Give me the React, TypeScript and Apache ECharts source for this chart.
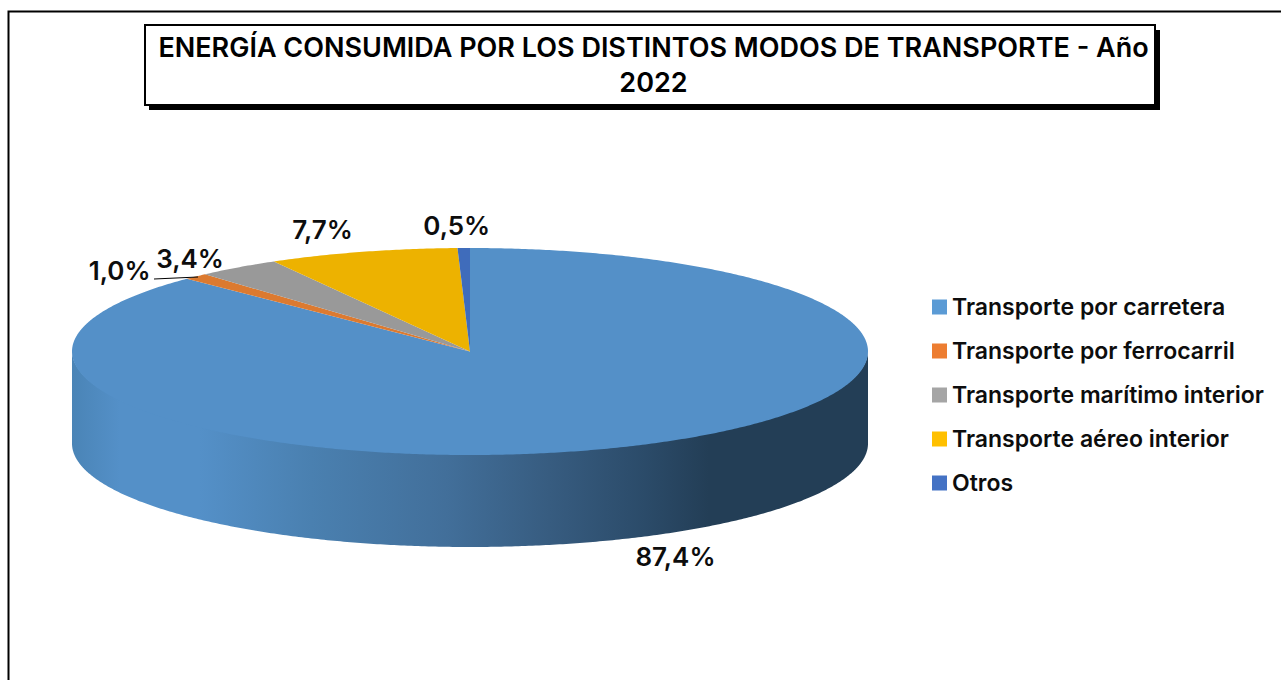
import React, { useEffect, useRef } from "react";
import * as echarts from "echarts";

const titleText = "ENERGÍA CONSUMIDA POR LOS DISTINTOS MODOS DE TRANSPORTE - Año\n2022";
const categories = [
  "Transporte por carretera",
  "Transporte por ferrocarril",
  "Transporte marítimo interior",
  "Transporte aéreo interior",
  "Otros",
];
const shares = [87.4, 1.0, 3.4, 7.7, 0.5];
const legendColors = ["#5b9bd5", "#ed7d31", "#a5a5a5", "#ffc000", "#4472c4"];
const sliceColors = ["#5490c8", "#dc7a30", "#999999", "#edb200", "#3f6cbb"];

// Label anchor shifts from the point on the rim at each slice's mid-angle.
const labelShifts: [number, number][] = [
  [52, 110],
  [-76, -6],
  [-48, -9],
  [-40, -22],
  [-7, -23],
];

const CX = 470;
const CY = 351.5;
const RX = 398;
const RY = 103.5;
const DEPTH = 92;
const FONT = "Inter, 'Noto Sans', sans-serif";

const wallGradient = () =>
  new echarts.graphic.LinearGradient(
    72,
    0,
    868,
    0,
    [
      { offset: 0, color: "#4a84b6" },
      { offset: 0.06, color: "#5490c8" },
      { offset: 0.16, color: "#5490c8" },
      { offset: 0.3, color: "#4a80b0" },
      { offset: 0.47, color: "#426f9a" },
      { offset: 0.6, color: "#375c80" },
      { offset: 0.72, color: "#2b4b69" },
      { offset: 0.8, color: "#233e56" },
      { offset: 1, color: "#233e56" },
    ],
    true
  );

const rim = (deg: number, dy = 0): [number, number] => {
  const a = (deg * Math.PI) / 180;
  return [CX + RX * Math.sin(a), CY - RY * Math.cos(a) + dy];
};

const arc = (from: number, to: number, dy = 0) => {
  const pts: [number, number][] = [];
  const n = Math.max(2, Math.ceil((to - from) / 0.5));
  for (let i = 0; i <= n; i++) pts.push(rim(from + ((to - from) * i) / n, dy));
  return pts;
};

const total = shares.reduce((s, v) => s + v, 0);

const makeRender = (index: number) => (_params: any, api: any) => {
  const value = api.value(0);
  const before = shares.slice(0, index).reduce((s, v) => s + v, 0);
  const start = (before / total) * 360;
  const end = ((before + value) / total) * 360;
  const children: any[] = [];

  const wallFrom = Math.max(start, 90);
  const wallTo = Math.min(end, 270);
  if (wallTo > wallFrom) {
    children.push({
      type: "polygon",
      shape: {
        points: [...arc(wallFrom, wallTo, -1), ...arc(wallFrom, wallTo, DEPTH).reverse()],
      },
      style: { fill: wallGradient() },
    });
  }

  children.push({
    type: "polygon",
    shape: { points: [[CX, CY], ...arc(start, end)] },
    style: { fill: sliceColors[index] },
  });

  const [mx, my] = rim((start + end) / 2);
  const [sx, sy] = labelShifts[index];
  children.push({
    type: "text",
    z2: 50,
    style: {
      text: value.toFixed(1).replace(".", ",") + "%",
      x: mx + sx,
      y: my + sy,
      align: "center",
      verticalAlign: "middle",
      fill: "#0d0d0d",
      fontFamily: FONT,
      fontSize: 26,
      fontWeight: 600,
    },
  });

  if (index === 1) {
    children.push({
      type: "line",
      z2: 50,
      shape: { x1: 154, y1: 279, x2: 198, y2: 277 },
      style: { stroke: "#000", lineWidth: 1 },
    });
  }
  return { type: "group", children };
};

export default function App() {
  const ref = useRef<HTMLDivElement>(null);
  useEffect(() => {
    const chart = echarts.init(ref.current!, undefined, { renderer: "svg" });
    chart.setOption({
      animation: false,
      backgroundColor: "#ffffff",
      title: {
        text: titleText,
        left: 648.5,
        top: 25,
        textAlign: "center",
        textStyle: {
          fontFamily: FONT,
          fontSize: 27,
          fontWeight: 600,
          lineHeight: 35,
          color: "#000",
        },
      },
      legend: {
        orient: "vertical",
        left: 927,
        top: 290,
        icon: "rect",
        itemWidth: 15,
        itemHeight: 15,
        itemGap: 20,
        selectedMode: false,
        textStyle: {
          fontFamily: FONT,
          fontSize: 23,
          fontWeight: 600,
          lineHeight: 24,
          color: "#0d0d0d",
        },
        data: categories.map((name, i) => ({
          name,
          itemStyle: { color: legendColors[i] },
        })),
      },
      graphic: [
        {
          type: "polyline",
          shape: { points: [[8.5, 680], [8.5, 11.5], [1281, 11.5]] },
          style: { stroke: "#000", lineWidth: 2, fill: "none" },
        },
        {
          type: "rect",
          shape: { x: 149, y: 30, width: 1011, height: 80 },
          style: { fill: "#000" },
        },
        {
          type: "rect",
          shape: { x: 145, y: 25, width: 1010, height: 80 },
          style: { fill: "#fff", stroke: "#000", lineWidth: 2 },
        },
      ],
      series: categories.map((name, i) => ({
        type: "custom",
        name,
        coordinateSystem: "none",
        silent: true,
        itemStyle: { color: legendColors[i] },
        data: [[shares[i]]],
        renderItem: makeRender(i),
      })),
    });
    return () => chart.dispose();
  }, []);
  return (
    <div
      ref={ref}
      style={{ position: "absolute", left: 0, top: 0, width: 1281, height: 680 }}
    />
  );
}
